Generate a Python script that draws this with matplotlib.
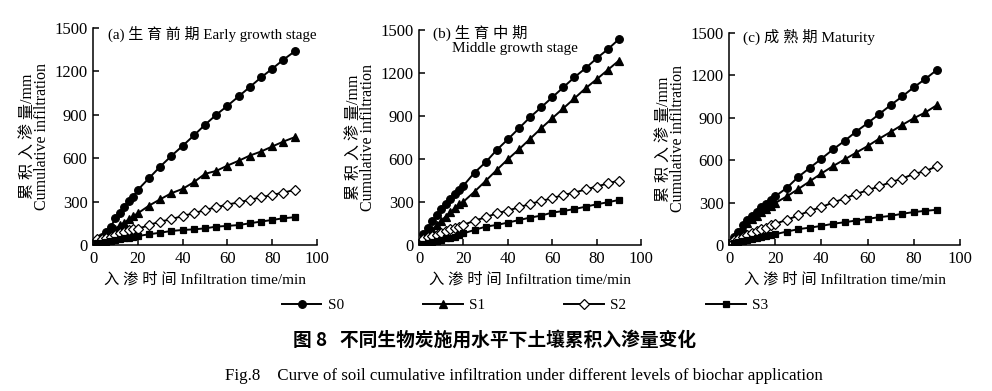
import matplotlib
matplotlib.use("Agg")
import matplotlib.pyplot as plt
from matplotlib.lines import Line2D

plt.rcParams['font.family'] = ['Liberation Serif', 'Noto Sans CJK SC']
plt.rcParams['axes.unicode_minus'] = False

# time points (min)
t = [2, 4, 6, 8, 10, 12, 14, 16, 18, 20, 25, 30, 35, 40, 45, 50, 55, 60, 65, 70, 75, 80, 85, 90]

# (a) early growth stage
a_s0 = [30, 58, 92, 127, 185, 219, 265, 307, 335, 381, 462, 542, 616, 685, 757, 831, 900, 962, 1027, 1092, 1158, 1218, 1281, 1338]
a_s1 = [16, 35, 58, 81, 108, 138, 155, 178, 200, 219, 272, 316, 358, 388, 434, 492, 512, 549, 582, 618, 646, 681, 715, 745]
a_s2 = [39, 44, 51, 58, 72, 81, 92, 104, 108, 111, 138, 162, 178, 201, 219, 242, 261, 279, 295, 312, 330, 346, 362, 381]
a_s3 = [12, 16, 21, 28, 35, 39, 45, 51, 58, 62, 74, 85, 97, 104, 108, 115, 127, 132, 138, 150, 162, 173, 185, 192]

# (b) middle growth stage
b_s0 = [80, 121, 167, 209, 251, 286, 319, 353, 384, 414, 505, 577, 663, 737, 814, 891, 960, 1030, 1100, 1170, 1233, 1302, 1365, 1435]
b_s1 = [40, 70, 105, 140, 170, 198, 228, 256, 286, 302, 372, 447, 523, 598, 667, 740, 814, 884, 953, 1023, 1093, 1156, 1221, 1286]
b_s2 = [42, 53, 63, 70, 86, 98, 109, 116, 128, 140, 170, 193, 221, 240, 263, 286, 307, 326, 349, 365, 388, 407, 430, 449]
b_s3 = [10, 16, 23, 30, 35, 47, 52, 58, 70, 81, 105, 128, 140, 156, 174, 191, 205, 226, 237, 251, 267, 284, 298, 314]

# (c) maturity
c_s0 = [55, 95, 138, 178, 206, 237, 268, 292, 320, 344, 404, 482, 546, 610, 676, 736, 802, 862, 926, 990, 1051, 1116, 1175, 1239]
c_s1 = [55, 88, 123, 154, 183, 206, 233, 256, 278, 297, 344, 396, 451, 506, 558, 605, 653, 700, 752, 800, 850, 897, 938, 990]
c_s2 = [36, 45, 55, 71, 88, 102, 112, 123, 138, 150, 178, 209, 242, 268, 301, 328, 361, 387, 415, 444, 470, 503, 522, 558]
c_s3 = [17, 24, 31, 36, 45, 52, 59, 66, 71, 76, 95, 112, 123, 135, 150, 161, 173, 185, 197, 206, 221, 233, 242, 249]

names = ['S0', 'S1', 'S2', 'S3']
yticks = [0, 300, 600, 900, 1200, 1500]
xticks = [0, 20, 40, 60, 80, 100]

styles = [dict(marker='o', mfc='black'),
          dict(marker='^', mfc='black'),
          dict(marker='D', mfc='white', ms=5),
          dict(marker='s', mfc='black', ms=5)]

fig = plt.figure(figsize=(9.92, 3.91), dpi=100)

W, H = 992.0, 391.0
boxes = [(93, 317, 28, 245), (419, 641, 30, 245), (729, 960, 33, 245)]
panels = [[a_s0, a_s1, a_s2, a_s3], [b_s0, b_s1, b_s2, b_s3], [c_s0, c_s1, c_s2, c_s3]]

def base_style():
    return dict(color='black', lw=1.4, mec='black', mew=0.9, ms=5.5)

axes = []
for (x0, x1, y0, y1), data in zip(boxes, panels):
    ax = fig.add_axes([x0 / W, 1 - y1 / H, (x1 - x0) / W, (y1 - y0) / H])
    for ys, st in zip(data, styles):
        kw = base_style()
        kw.update(st)
        ax.plot(t, ys, **kw)
    ax.set_xlim(0, 100)
    ax.set_ylim(0, 1500)
    ax.set_xticks(xticks)
    ax.set_yticks(yticks)
    ax.spines['top'].set_visible(False)
    ax.spines['right'].set_visible(False)
    ax.spines['left'].set_linewidth(1.1)
    ax.spines['bottom'].set_linewidth(1.1)
    ax.tick_params(direction='in', length=4, width=1.1, labelsize=12, pad=4)
    ax.set_xlabel('入 渗 时 间 Infiltration time/min', fontsize=11, labelpad=4)
    ax.set_ylabel('累 积 入 渗 量/mm\nCumulative infiltration', fontsize=11.5,
                  labelpad=3, linespacing=0.78)
    axes.append(ax)

axes[0].text(0.065, 0.975, '(a) 生 育 前 期 Early growth stage', transform=axes[0].transAxes,
             fontsize=10.8, va='center', ha='left')
axes[1].text(0.063, 0.985, '(b) 生 育 中 期', transform=axes[1].transAxes,
             fontsize=11, va='center', ha='left')
axes[1].text(0.15, 0.912, 'Middle growth stage', transform=axes[1].transAxes,
             fontsize=11, va='center', ha='left')
axes[2].text(0.06, 0.98, '(c) 成 熟 期 Maturity', transform=axes[2].transAxes,
             fontsize=11, va='center', ha='left')

handles = []
for nm, st in zip(names, styles):
    kw = base_style()
    kw.update(st)
    handles.append(Line2D([], [], label=nm, **kw))
fig.legend(handles=handles, loc='center', bbox_to_anchor=(0.529, 1 - 305 / H), ncol=4,
           frameon=False, fontsize=11, handlelength=2.6, columnspacing=5.2,
           handletextpad=0.4)

fig.text(0.499, 1 - 340 / H, '图 8   不同生物炭施用水平下土壤累积入渗量变化',
         ha='center', va='center', fontsize=13.5, fontweight='bold',
         family=['Noto Sans CJK SC'])
fig.text(0.528, 1 - 376 / H,
         'Fig.8    Curve of soil cumulative infiltration under different levels of biochar application',
         ha='center', va='center', fontsize=12.2)

fig.savefig('out.png', dpi=100)
